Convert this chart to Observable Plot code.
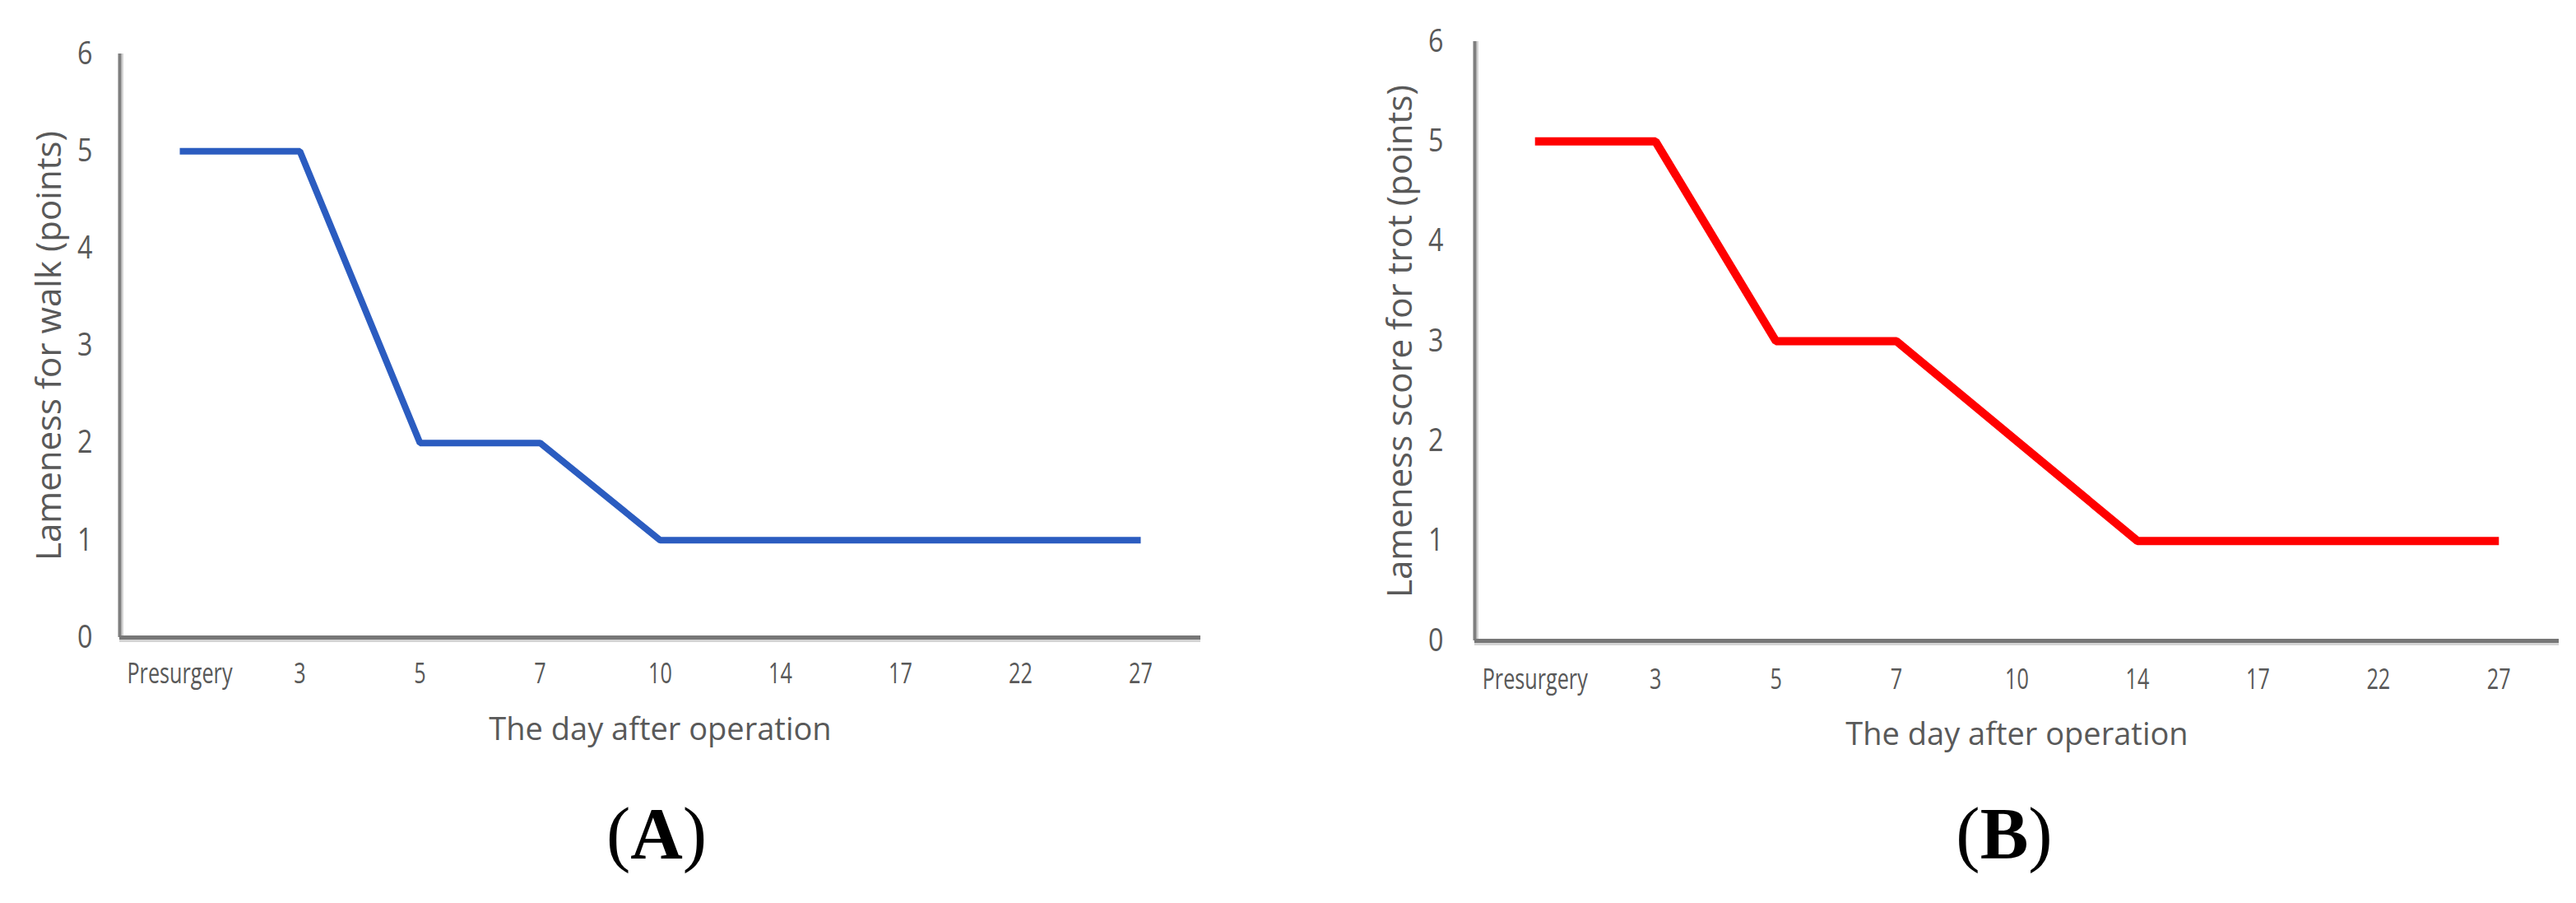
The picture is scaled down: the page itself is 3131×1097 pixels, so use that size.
<!DOCTYPE html>
<html>
<head>
<meta charset="utf-8">
<script src="https://cdn.jsdelivr.net/npm/d3@7"></script>
<script src="https://cdn.jsdelivr.net/npm/@observablehq/plot@0.6"></script>
<style>
  html, body { margin: 0; padding: 0; background: #ffffff; }
  #wrap { position: relative; width: 3131px; height: 1097px; background: #ffffff; overflow: hidden; }
  .panel { position: absolute; top: 0; }
  .cap { position: absolute; font-family: "Liberation Serif", "Times New Roman", serif; font-size: 88px; line-height: 1; color: #000; text-align: center; width: 300px; }
  .cap b { font-weight: 700; }
</style>
</head>
<body>
<div id="wrap">
  <div id="panelA" class="panel" style="left:0px"></div>
  <div id="panelB" class="panel" style="left:1640px"></div>
  <div class="cap" style="left:648px; top:969px">(<b>A</b>)</div>
  <div class="cap" style="left:2286px; top:969px">(<b>B</b>)</div>
</div>
<script>
// ---- data ----
const categories = ["Presurgery", "3", "5", "7", "10", "14", "17", "22", "27"];
const walkScores = [5, 5, 2, 2, 1, 1, 1, 1, 1];
const trotScores = [5, 5, 3, 3, 2, 1, 1, 1, 1];
const yTicks = [0, 1, 2, 3, 4, 5, 6];
const xTitle = "The day after operation";
const yTitleA = "Lameness for walk (points)";
const yTitleB = "Lameness score for trot (points)";

function panel(values, cfg) {
  const data = values.map((v, i) => ({i, v}));
  const idx = categories.map((d, i) => i);
  const svg = Plot.plot({
    width: cfg.width,
    height: 930,
    marginLeft: cfg.marginLeft,
    marginRight: cfg.marginRight,
    marginTop: cfg.marginTop,
    marginBottom: 930 - cfg.baseline,
    style: {fontFamily: "'Open Sans', 'Noto Sans', sans-serif", background: "transparent", overflow: "visible"},
    x: {type: "linear", domain: [-0.5, categories.length - 0.5]},
    y: {domain: [0, 6]},
    marks: [
      Plot.axisX(idx, {tickSize: 0, tickPadding: cfg.xPad, tickFormat: i => categories[i], fontSize: 35, color: "#595959", label: null}),
      Plot.axisY(yTicks, {tickSize: 0, tickPadding: cfg.yPad, tickFormat: d => String(d), fontSize: 38, color: "#595959", label: null}),
      Plot.ruleX([-0.5], {stroke: "#d4d4d4", strokeWidth: 3, dx: 3}),
      Plot.ruleY([0], {stroke: "#d4d4d4", strokeWidth: 3, dy: 4}),
      Plot.ruleX([-0.5], {stroke: "#7f7f7f", strokeWidth: 4}),
      Plot.ruleY([0], {stroke: "#777777", strokeWidth: 5}),
      Plot.line(data, {x: "i", y: "v", stroke: cfg.color, strokeWidth: cfg.lineWidth, strokeLinejoin: "miter", strokeLinecap: "butt"}),
      Plot.text([cfg.yTitle], {text: d => d, frameAnchor: "left", textAnchor: "middle", lineAnchor: "middle", dx: cfg.yTitleDx, rotate: -90, fontSize: 42, fill: "#595959"}),
      Plot.text([xTitle], {text: d => d, frameAnchor: "bottom", textAnchor: "middle", lineAnchor: "middle", dy: cfg.xTitleDy, fontSize: 38, fill: "#595959"})
    ]
  });
  svg.querySelectorAll('g[aria-label="x-axis tick label"] text').forEach(t => {
    t.setAttribute("transform", (t.getAttribute("transform") || "") + " scale(0.72,1)");
  });
  svg.querySelectorAll('g[aria-label="y-axis tick label"] text').forEach(t => {
    t.setAttribute("transform", (t.getAttribute("transform") || "") + " scale(0.85,1)");
  });
  return svg;
}

document.getElementById("panelA").appendChild(panel(walkScores, {
  width: 1560, marginLeft: 145, marginRight: 101, marginTop: 65, baseline: 774,
  xPad: 31, yPad: 33, color: "#2b5cc0", lineWidth: 8, yTitle: yTitleA, yTitleDx: -85, xTitleDy: 112
}));
document.getElementById("panelB").appendChild(panel(trotScores, {
  width: 1491, marginLeft: 152, marginRight: 21, marginTop: 50, baseline: 778,
  xPad: 34, yPad: 38, color: "#ff0000", lineWidth: 10, yTitle: yTitleB, yTitleDx: -90, xTitleDy: 114
}));
</script>
</body>
</html>
